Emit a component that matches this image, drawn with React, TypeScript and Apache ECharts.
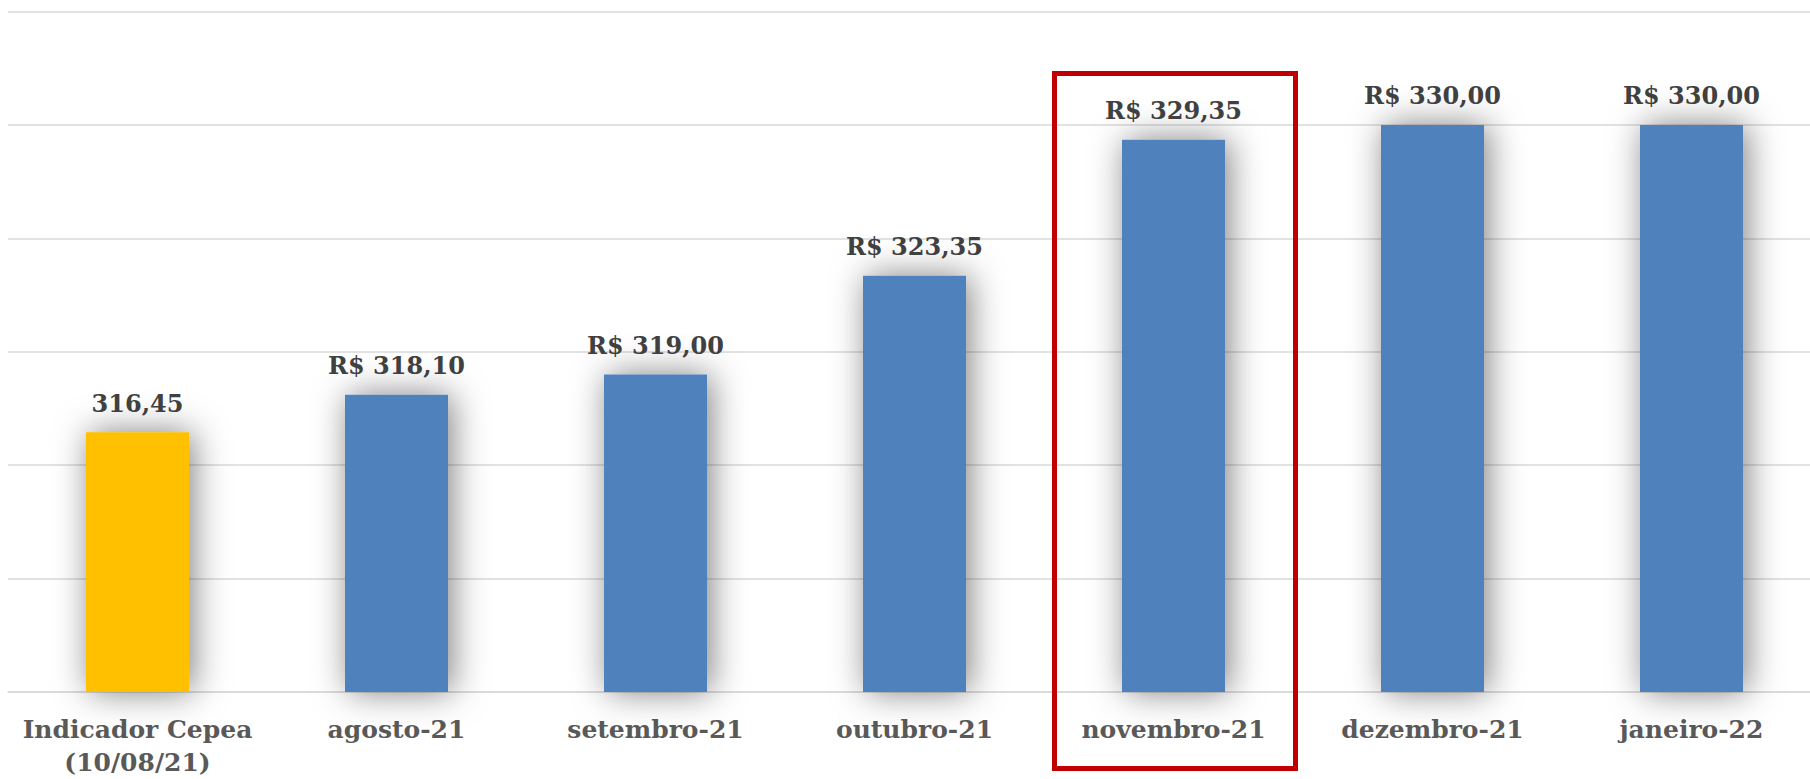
import React, { useEffect, useRef } from "react";
import * as echarts from "echarts";

const categories = [
  "Indicador Cepea\n(10/08/21)",
  "agosto-21",
  "setembro-21",
  "outubro-21",
  "novembro-21",
  "dezembro-21",
  "janeiro-22",
];
const values = [316.45, 318.1, 319.0, 323.35, 329.35, 330.0, 330.0];
const isIndicator = [true, false, false, false, false, false, false];
const yMin = 305;
const yMax = 335;
const yInterval = 5;

const FONT = "DejaVu Serif";

function fmt(v: number, ind: boolean) {
  const s = v.toFixed(2).replace(".", ",");
  return ind ? s : "R$ " + s;
}

export default function App() {
  const ref = useRef<HTMLDivElement>(null);
  useEffect(() => {
    if (!ref.current) return;
    const chart = echarts.init(ref.current, undefined, { renderer: "svg" });
    chart.setOption({
      animation: false,
      backgroundColor: "#ffffff",
      grid: { left: 8, right: 0, top: 11.5, bottom: 86.3 },
      xAxis: {
        type: "category",
        data: categories,
        axisLine: { show: true, lineStyle: { color: "#d9d9d9", width: 1.5 } },
        axisTick: { show: false },
        axisLabel: {
          interval: 0,
          margin: 21,
          fontFamily: FONT,
          fontWeight: "bold",
          fontSize: 25,
          lineHeight: 33,
          color: "#595959",
        },
      },
      yAxis: {
        type: "value",
        min: yMin,
        max: yMax,
        interval: yInterval,
        axisLabel: { show: false },
        axisLine: { show: false },
        axisTick: { show: false },
        splitLine: { lineStyle: { color: "#d9d9d9", width: 1.5 } },
      },
      series: [
        {
          type: "bar",
          barWidth: 103,
          data: values.map((v, i) => ({
            value: v,
            itemStyle: {
              color: isIndicator[i] ? "#ffc000" : "#4f81bd",
              shadowBlur: 34,
              shadowColor: "rgba(0,0,0,0.5)",
              shadowOffsetX: 4,
              shadowOffsetY: 0,
            },
            label: {
              show: true,
              position: "top",
              distance: 17,
              formatter: () => fmt(v, isIndicator[i]),
              fontFamily: FONT,
              fontWeight: "bold",
              fontSize: 24,
              color: "#404040",
            },
          })),
        },
      ],
      graphic: [
        {
          type: "rect",
          shape: { x: 1054.5, y: 73.5, width: 241, height: 695 },
          style: { fill: "none", stroke: "#c00000", lineWidth: 5 },
          z: 100,
        },
      ],
    });
    return () => chart.dispose();
  }, []);
  return (
    <div
      style={{
        position: "fixed",
        left: 0,
        top: 0,
        width: 1810,
        height: 779,
        overflow: "hidden",
        background: "#fff",
      }}
    >
      <div ref={ref} style={{ width: 1821, height: 779 }} />
    </div>
  );
}
